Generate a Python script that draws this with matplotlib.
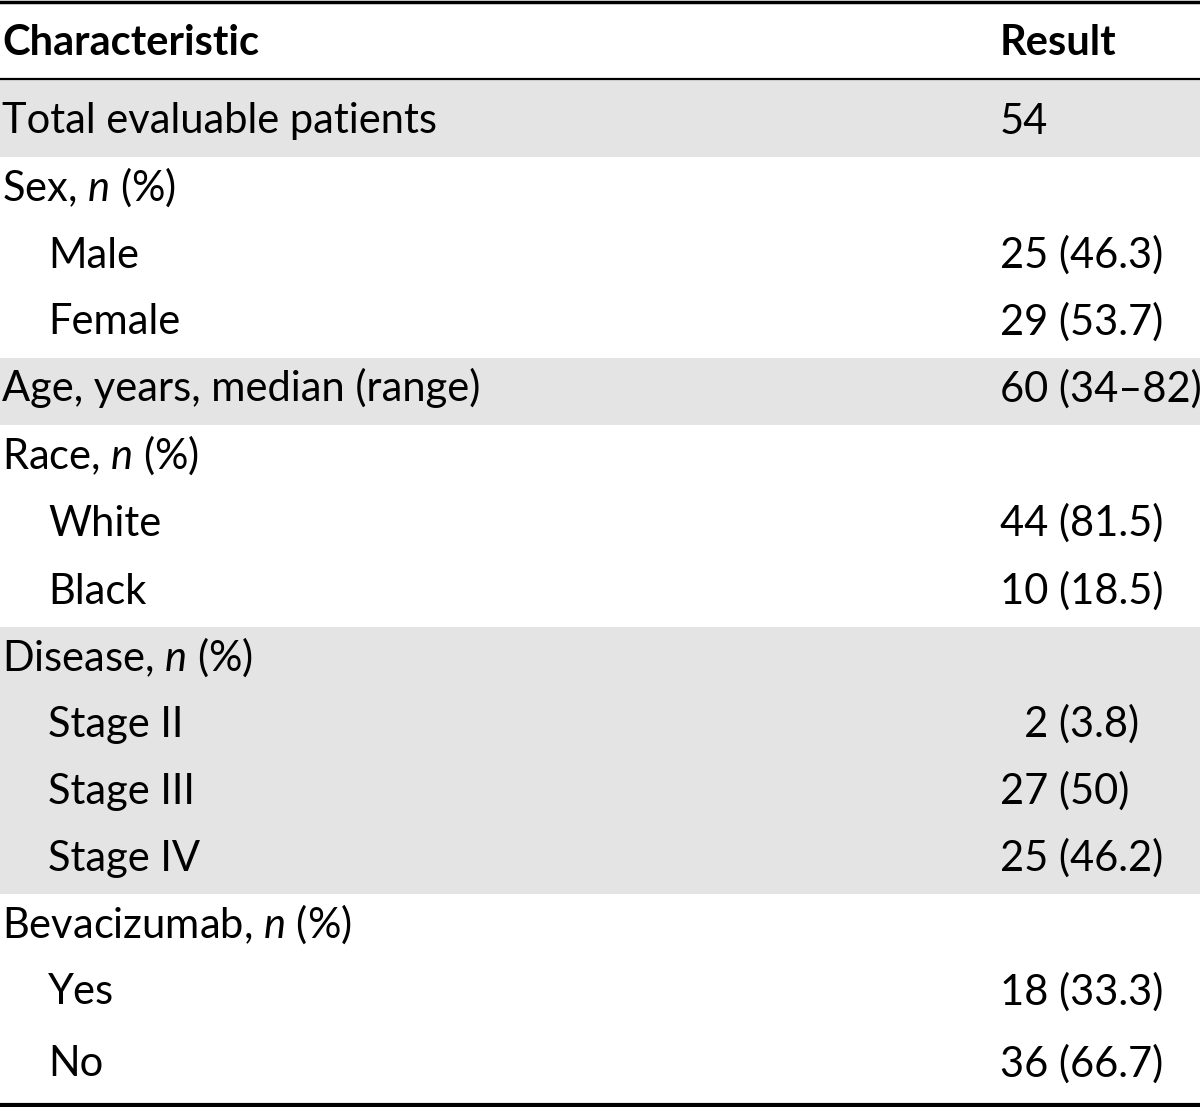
import matplotlib.pyplot as plt

# table content
header = ['Characteristic', 'Result']
labels = ['Total evaluable patients', 'Sex, $\\it{n}$ (%)', 'Male', 'Female',
          'Age, years, median (range)', 'Race, $\\it{n}$ (%)', 'White', 'Black',
          'Disease, $\\it{n}$ (%)', 'Stage II', 'Stage III', 'Stage IV',
          'Bevacizumab, $\\it{n}$ (%)', 'Yes', 'No']
results = ['54', '', '25 (46.3)', '29 (53.7)', '60 (34\u201382)', '', '44 (81.5)',
           '10 (18.5)', '', '\u20072 (3.8)', '27 (50)', '25 (46.2)', '', '18 (33.3)',
           '36 (66.7)']
indented = [False, False, True, True, False, False, True, True,
            False, True, True, True, False, True, True]
shaded = [True, False, False, False, True, False, False, False,
          True, True, True, True, False, False, False]

plt.rcParams['font.family'] = ['Lato', 'DejaVu Sans']
plt.rcParams['mathtext.fontset'] = 'custom'
plt.rcParams['mathtext.it'] = 'Lato:italic'
plt.rcParams['mathtext.rm'] = 'Lato'

fig = plt.figure(figsize=(12, 11.07), dpi=100)
ax = fig.add_axes([0, 0, 1, 1])
ax.set_xlim(0, 1200)
ax.set_ylim(1107, 0)
ax.axis('off')

fs = 30
shade = '#e4e4e4'

# header
ax.text(2, 55, header[0], fontsize=fs, fontweight='bold', va='baseline')
ax.text(1000, 55, header[1], fontsize=fs, fontweight='bold', va='baseline')

# row boundaries: first row a bit taller
tops = [80] + [157 + 67 * i for i in range(len(labels) - 1)]
tops[8:] = [627 + 66.75 * i for i in range(4)] + [894 + 67 * i for i in range(3)]
bottoms = tops[1:] + [1100]

for i, lab in enumerate(labels):
    t, b = tops[i], bottoms[i]
    if shaded[i]:
        ax.axhspan(t, b, color=shade, lw=0, zorder=0)
    base = b - 23.5
    x = 48 if indented[i] else 2
    ax.text(x, base, lab, fontsize=fs, va='baseline')
    if results[i]:
        ax.text(1000, base, results[i], fontsize=fs, va='baseline')

ax.axhline(1.5, color='black', lw=2.5)
ax.axhline(78.5, color='black', lw=1.6)
ax.axhline(1104.5, color='black', lw=3)

fig.savefig('out.png', dpi=100)
